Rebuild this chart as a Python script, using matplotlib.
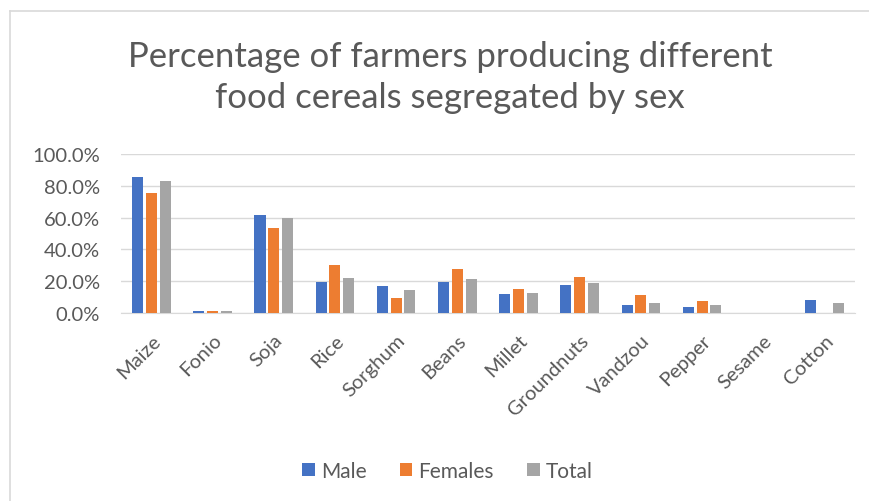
import numpy as np
import matplotlib
matplotlib.use("Agg")
import matplotlib.pyplot as plt
from matplotlib.ticker import PercentFormatter
from matplotlib.lines import Line2D

categories = ["Maize", "Fonio", "Soja", "Rice", "Sorghum", "Beans", "Millet",
              "Groundnuts", "Vandzou", "Pepper", "Sesame", "Cotton"]
male = [85.5, 1.3, 61.9, 19.2, 16.8, 19.2, 12.0, 17.7, 5.1, 3.8, 0.0, 8.2]
females = [75.6, 1.3, 53.5, 29.9, 9.3, 27.4, 14.9, 22.7, 11.4, 7.6, 0.0, 0.0]
total = [82.9, 1.3, 59.8, 21.9, 14.7, 21.1, 12.6, 18.9, 6.3, 4.8, 0.0, 6.3]

plt.rcParams['font.family'] = ['Lato', 'DejaVu Sans']
grey = '#595959'

fig = plt.figure(figsize=(8.69, 5.02), dpi=100)
# chart frame: only top and left edges are visible in the crop
fig.add_artist(Line2D([0.011, 1.0], [0.977, 0.977], transform=fig.transFigure,
                      color='#d9d9d9', linewidth=1.2))
fig.add_artist(Line2D([0.011, 0.011], [0.0, 0.977], transform=fig.transFigure,
                      color='#d9d9d9', linewidth=1.2))

ax = fig.add_axes([0.139, 0.3745, 0.845, 0.3165])

x = np.arange(len(categories))
w = 0.18
off = 0.225
series = [(male, 'Male', '#4472c4'), (females, 'Females', '#ed7d31'), (total, 'Total', '#a5a5a5')]
for i, (vals, name, col) in enumerate(series):
    ax.bar(x + (i - 1) * off, np.array(vals) / 100, w, color=col, label=name, zorder=3)

ax.set_xlim(-0.5, len(categories) - 0.5)
ax.set_ylim(0, 1.0)
ax.set_yticks(np.arange(0, 1.01, 0.2))
ax.yaxis.set_major_formatter(PercentFormatter(1.0, decimals=1))
ax.grid(axis='y', color='#d9d9d9', linewidth=1, zorder=0)
for s in ['top', 'right', 'left']:
    ax.spines[s].set_visible(False)
ax.spines['bottom'].set_color('#d9d9d9')
ax.tick_params(axis='both', length=0, labelsize=14.5, colors=grey)
ax.tick_params(axis='y', pad=15)
ax.tick_params(axis='x', pad=13)
ax.set_xticks(x)
ax.set_xticklabels(categories, rotation=45, ha='right', rotation_mode='anchor')

fig.text(0.518, 0.845, "Percentage of farmers producing different\nfood cereals segregated by sex",
         ha='center', va='center', fontsize=25, color=grey, linespacing=1.35)

fig.legend(loc='center', bbox_to_anchor=(0.515, 0.06), ncol=3, frameon=False,
           fontsize=15, labelcolor=grey, handlelength=0.6, handleheight=0.6,
           columnspacing=1.6, handletextpad=0.3)

fig.savefig("out.png", dpi=100)
